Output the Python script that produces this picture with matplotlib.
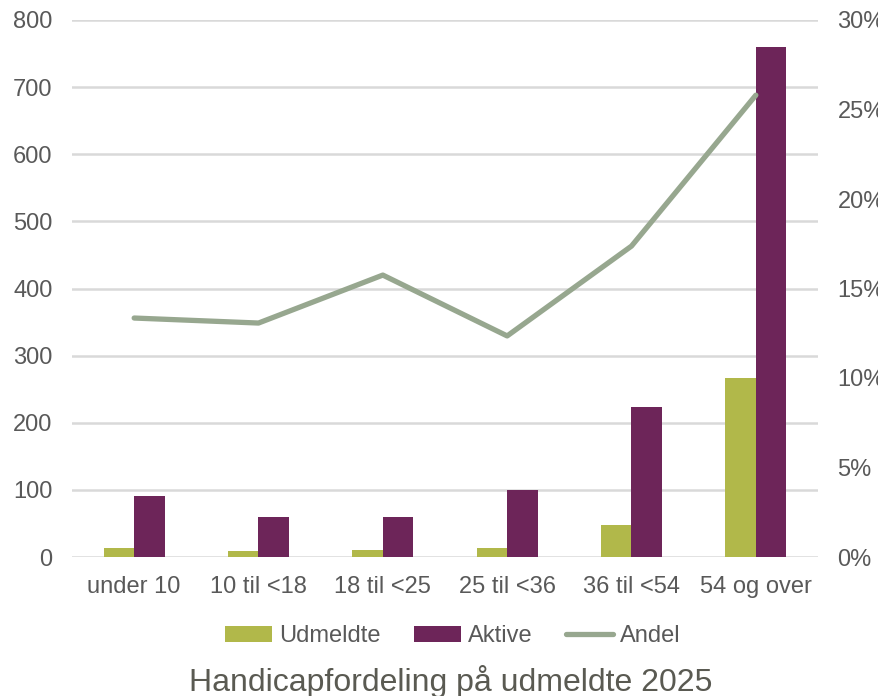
import numpy as np
import matplotlib.pyplot as plt
from matplotlib.ticker import PercentFormatter

categories = ['under 10', '10 til <18', '18 til <25', '25 til <36', '36 til <54', '54 og over']
udmeldte = [14, 9, 11, 14, 47, 266]
aktive = [91, 60, 60, 100, 224, 760]
andel = [0.1335, 0.1307, 0.1575, 0.1235, 0.1737, 0.258]

c_udm = '#b1b84a'
c_akt = '#6d2559'
c_and = '#97a78f'
c_txt = '#595959'
c_grid = '#d9d9d9'

plt.rcParams['font.family'] = ['Liberation Sans', 'DejaVu Sans']

fig = plt.figure(figsize=(8.79, 6.96), dpi=100)
ax = fig.add_axes([72/879, 1-557/696, 746/879, 537/696])
ax2 = ax.twinx()

x = np.arange(len(categories))
w = 0.245
ax.bar(x - w/2, udmeldte, w, color=c_udm, label='Udmeldte', zorder=3)
ax.bar(x + w/2, aktive, w, color=c_akt, label='Aktive', zorder=3)
ax2.plot(x, andel, color=c_and, lw=3.8, solid_capstyle='round', label='Andel')

ax.set_xlim(-0.5, len(categories) - 0.5)
ax.set_ylim(0, 800)
ax.set_yticks(range(0, 801, 100))
ax2.set_ylim(0, 0.30)
ax2.set_yticks(np.arange(0, 0.301, 0.05))
ax2.yaxis.set_major_formatter(PercentFormatter(1.0, decimals=0))

ax.grid(axis='y', color=c_grid, lw=1.8, zorder=0)
ax.set_axisbelow(True)
for a in (ax, ax2):
    for s in a.spines.values():
        s.set_visible(False)
    a.tick_params(length=0, colors=c_txt, labelsize=17)
ax.tick_params(axis='y', pad=14)
ax2.tick_params(axis='y', pad=14)
ax.tick_params(axis='x', pad=14)
ax.set_xticks(x)
ax.set_xticklabels(categories)

# legend sits between the x labels and the title
fig.legend(loc='center', bbox_to_anchor=(453/879, 1-636/696), ncol=3, frameon=False,
           fontsize=17, labelcolor=c_txt, handlelength=2.0, handleheight=0.65,
           handletextpad=0.3, columnspacing=1.4)

fig.text(451/879, 1-681/696, 'Handicapfordeling på udmeldte 2025', ha='center', va='center',
         fontsize=23, color='#5a5a52')

fig.savefig('out.png', dpi=100)
